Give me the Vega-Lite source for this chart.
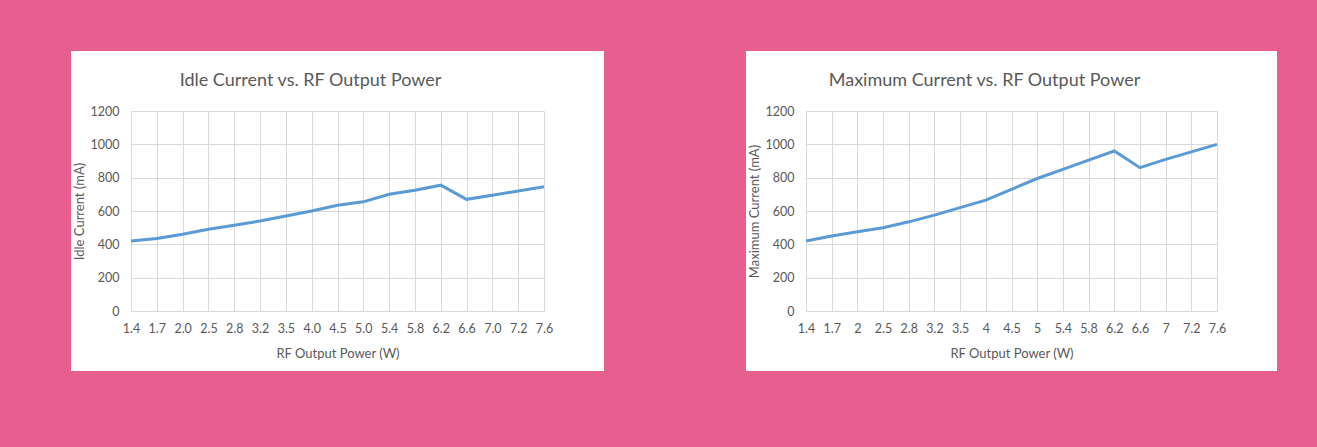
{
  "$schema": "https://vega.github.io/schema/vega-lite/v6.json",
  "background": "#E65F8E",
  "padding": {"left": 13, "top": 12, "right": 34, "bottom": 28},
  "datasets": {
    "idle": [
      {"power": "1.4", "current": 420}, {"power": "1.7", "current": 435}, {"power": "2.0", "current": 460},
      {"power": "2.5", "current": 490}, {"power": "2.8", "current": 515}, {"power": "3.2", "current": 540},
      {"power": "3.5", "current": 570}, {"power": "4.0", "current": 600}, {"power": "4.5", "current": 635},
      {"power": "5.0", "current": 655}, {"power": "5.4", "current": 700}, {"power": "5.8", "current": 725},
      {"power": "6.2", "current": 755}, {"power": "6.6", "current": 670}, {"power": "7.0", "current": 695},
      {"power": "7.2", "current": 720}, {"power": "7.6", "current": 745}
    ],
    "max": [
      {"power": "1.4", "current": 420}, {"power": "1.7", "current": 450}, {"power": "2", "current": 475},
      {"power": "2.5", "current": 500}, {"power": "2.8", "current": 535}, {"power": "3.2", "current": 575},
      {"power": "3.5", "current": 620}, {"power": "4", "current": 665}, {"power": "4.5", "current": 730},
      {"power": "5", "current": 795}, {"power": "5.4", "current": 850}, {"power": "5.8", "current": 905},
      {"power": "6.2", "current": 960}, {"power": "6.6", "current": 860}, {"power": "7", "current": 910},
      {"power": "7.2", "current": 955}, {"power": "7.6", "current": 1000}
    ]
  },
  "spacing": 262,
  "bounds": "flush",
  "hconcat": [
    {
      "width": 413,
      "height": 200,
      "data": {"name": "idle"},
      "title": {"text": "Idle Current vs. RF Output Power", "dx": -27},
      "mark": {"type": "line", "color": "#5B9BD5", "strokeWidth": 3},
      "encoding": {
        "x": {"field": "power", "type": "ordinal", "sort": null, "scale": {"type": "point", "padding": 0}, "title": "RF Output Power (W)"},
        "y": {"field": "current", "type": "quantitative", "scale": {"domain": [0, 1200]}, "axis": {"values": [0, 200, 400, 600, 800, 1000, 1200], "format": "d"}, "title": "Idle Current (mA)"}
      }
    },
    {
      "width": 411,
      "height": 200,
      "data": {"name": "max"},
      "title": {"text": "Maximum Current vs. RF Output Power", "dx": -27},
      "mark": {"type": "line", "color": "#5B9BD5", "strokeWidth": 3},
      "encoding": {
        "x": {"field": "power", "type": "ordinal", "sort": null, "scale": {"type": "point", "padding": 0}, "title": "RF Output Power (W)"},
        "y": {"field": "current", "type": "quantitative", "scale": {"domain": [0, 1200]}, "axis": {"values": [0, 200, 400, 600, 800, 1000, 1200], "format": "d"}, "title": "Maximum Current (mA)"}
      }
    }
  ],
  "config": {
    "font": "Lato",
    "view": {"fill": "white", "stroke": "white", "strokeWidth": 120},
    "title": {"fontSize": 18, "fontWeight": "normal", "color": "#595959", "font": "Lato", "offset": 15},
    "axis": {
      "gridColor": "#D9D9D9",
      "domainColor": "#D9D9D9",
      "ticks": false,
      "labelColor": "#595959",
      "titleColor": "#595959",
      "labelFontSize": 12.5,
      "titleFontSize": 13,
      "titleFontWeight": "normal",
      "labelFont": "Lato",
      "titleFont": "Lato"
    },
    "axisX": {"labelAngle": 0, "labelPadding": 11, "titlePadding": 13, "grid": true, "domain": true},
    "axisY": {"labelPadding": 12, "titlePadding": 4, "domain": false}
  }
}
